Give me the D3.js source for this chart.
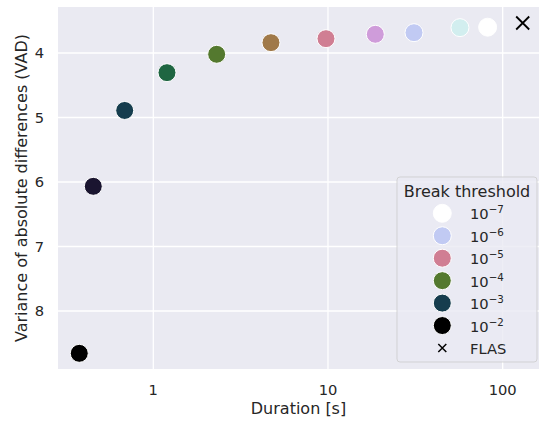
<!DOCTYPE html>
<meta charset="utf-8">
<style>
body {
  margin: 0;
  background-color: #fff;
}

text {
  font-family: "DejaVu Sans", sans-serif;
  fill: #262626;
}

.grid line {
  stroke: #fff;
  stroke-width: 1.3px;
}

.tick-label {
  font-size: 14.7px;
}
</style>
<body>

<script src="https://cdn.jsdelivr.net/npm/d3@7"></script>
<script>

// break thresholds (exponent of 10) and measured results
var exponents = [-2, -2.5, -3, -3.5, -4, -4.5, -5, -5.5, -6, -6.5, -7];
var durations = [0.377, 0.4535, 0.686, 1.198, 2.306, 4.716, 9.74, 18.66, 31.07, 56.95, 82.0];
var vad = [8.656, 6.067, 4.891, 4.305, 4.02, 3.84, 3.778, 3.71, 3.685, 3.607, 3.60];
var colors = ["#000000", "#1a1530", "#163d4e", "#1f6642", "#54792f", "#a07949",
              "#d07e93", "#cf9cda", "#c1caf3", "#d2eeef", "#ffffff"];

// reference method
var flasDuration = 130.2;
var flasVad = 3.535;

// ticks and legend
var xTicks = [1, 10, 100];
var yTicks = [4, 5, 6, 7, 8];
var legendExponents = [-7, -6, -5, -4, -3, -2];

var width = 540, height = 421;
var plot = {left: 58, right: 539, top: 7, bottom: 369};

var x = d3.scaleLog().domain([0.2848, 161.4]).range([plot.left, plot.right]);
var y = d3.scaleLinear().domain([3.287, 8.899]).range([plot.top, plot.bottom]);

var svg = d3.select("body").append("svg")
    .attr("width", width)
    .attr("height", height);

// background of axes
svg.append("rect")
    .attr("x", plot.left)
    .attr("y", plot.top)
    .attr("width", plot.right - plot.left)
    .attr("height", plot.bottom - plot.top)
    .attr("fill", "#eaeaf2");

// grid
var grid = svg.append("g").attr("class", "grid");
grid.selectAll(".gx").data(xTicks).enter().append("line")
    .attr("x1", function(d) { return x(d); })
    .attr("x2", function(d) { return x(d); })
    .attr("y1", plot.top)
    .attr("y2", plot.bottom);
grid.selectAll(".gy").data(yTicks).enter().append("line")
    .attr("x1", plot.left)
    .attr("x2", plot.right)
    .attr("y1", function(d) { return y(d); })
    .attr("y2", function(d) { return y(d); });

// tick labels
svg.selectAll(".xt").data(xTicks).enter().append("text")
    .attr("class", "tick-label")
    .attr("x", function(d) { return x(d); })
    .attr("y", 395)
    .attr("text-anchor", "middle")
    .text(function(d) { return d; });

svg.selectAll(".yt").data(yTicks).enter().append("text")
    .attr("class", "tick-label")
    .attr("x", 44)
    .attr("y", function(d) { return y(d) + 5.3; })
    .attr("text-anchor", "end")
    .text(function(d) { return d; });

// axis labels
svg.append("text")
    .attr("x", (plot.left + plot.right) / 2)
    .attr("y", 414)
    .attr("text-anchor", "middle")
    .style("font-size", "16px")
    .text("Duration [s]");

svg.append("text")
    .attr("transform", "translate(27," + (plot.top + plot.bottom) / 2 + ") rotate(-90)")
    .attr("text-anchor", "middle")
    .style("font-size", "16px")
    .text("Variance of absolute differences (VAD)");

// points
var points = exponents.map(function(e, i) {
  return {e: e, dur: durations[i], vad: vad[i], color: colors[i]};
});

svg.selectAll(".pt").data(points).enter().append("circle")
    .attr("cx", function(d) { return x(d.dur); })
    .attr("cy", function(d) { return y(d.vad); })
    .attr("r", 9)
    .attr("fill", function(d) { return d.color; })
    .attr("stroke", "#fff")
    .attr("stroke-width", 1);

function cross(g, cx, cy, s, w) {
  g.append("path")
      .attr("d", "M" + (cx - s) + "," + (cy - s) + "L" + (cx + s) + "," + (cy + s) +
                 "M" + (cx - s) + "," + (cy + s) + "L" + (cx + s) + "," + (cy - s))
      .attr("stroke", "#000")
      .attr("stroke-width", w)
      .attr("fill", "none");
}

cross(svg, x(flasDuration), y(flasVad), 6.5, 1.8);

// legend
var legend = svg.append("g");
legend.append("rect")
    .attr("x", 397)
    .attr("y", 177)
    .attr("width", 140)
    .attr("height", 185)
    .attr("rx", 3)
    .attr("fill", "#eaeaf2")
    .attr("fill-opacity", 0.8)
    .attr("stroke", "#cccccc")
    .attr("stroke-opacity", 0.8);

legend.append("text")
    .attr("x", 467)
    .attr("y", 196.5)
    .attr("text-anchor", "middle")
    .style("font-size", "16px")
    .text("Break threshold");

var rowY = function(i) { return 213.3 + i * 22.45; };

legendExponents.forEach(function(e, i) {
  var c = colors[exponents.indexOf(e)];
  legend.append("circle")
      .attr("cx", 442.3)
      .attr("cy", rowY(i))
      .attr("r", 9)
      .attr("fill", c)
      .attr("stroke", "#fff")
      .attr("stroke-width", 1);
  var t = legend.append("text")
      .attr("x", 470)
      .attr("y", rowY(i) + 6)
      .style("font-size", "14.7px");
  t.append("tspan").text("10");
  t.append("tspan")
      .attr("dy", -6)
      .style("font-size", "10.3px")
      .text("\u2212" + (-e));
});

cross(legend, 442.3, rowY(6), 4, 1.5);
legend.append("text")
    .attr("x", 470)
    .attr("y", rowY(6) + 5.5)
    .style("font-size", "14.7px")
    .text("FLAS");

</script>
</body>
